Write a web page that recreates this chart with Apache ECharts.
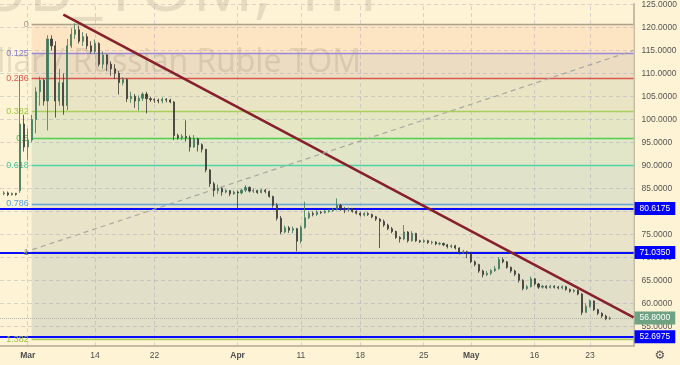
<!DOCTYPE html>
<html><head><meta charset="utf-8">
<script src="https://cdn.jsdelivr.net/npm/echarts@6/dist/echarts.min.js"></script>
<style>html,body{margin:0;padding:0;background:#fef3d5}#c{width:680px;height:365px}</style>
</head><body><div id="c"></div>
<script>
// ---- data ----
const xTickIndex = [7, 24, 39, 60, 76, 91, 107, 119, 135, 149];
const xTickText = ['Mar', '14', '22', 'Apr', '11', '18', '25', 'May', '16', '23'];
const monthNames = ['Mar', 'Apr', 'May'];
const categoryCount = 161;
const yTicks = [55, 60, 65, 70, 75, 80, 85, 90, 95, 100, 105, 110, 115, 120, 125];

// hourly candles [open, close, low, high]
const candles = [
[83.8,84.0,83.5,84.4],[84.0,83.6,83.3,84.3],[83.6,83.9,83.4,84.1],[83.9,83.7,83.4,84.0],
[84.5,99,84.0,109.5],[99,94,93,101],[94,95.5,91.2,98],[95.5,100,95,101],[100,106,97,107],
[106,108.5,103,109.3],[108.5,104,103,108.8],[104,117.5,97.6,118.3],[117.5,116,115,118.3],
[116,104,100.4,117],[104,108,103,111],[108,103,101,110],[103,116,102,117.5],[116,118.5,115.5,119.8],
[118.5,119.5,117.5,120.9],[119.5,117,116.5,120.4],[117,118,116,119],[118,116,115.3,118.7],
[116,114.8,114.3,117],[114.8,116.5,114.2,117.4],[116.5,112,111.5,116.8],[112,114,111,114.8],
[114,112,110.5,114.2],[112,111,109.5,112.6],[111,110,108.8,112],[110,108,105.4,110.5],
[108,108.7,107.4,109.2],[108.7,104.5,103.8,108.9],[104.5,105,103.6,106],[105,104,102.5,105.5],
[104,104.6,101.9,105.2],[104.6,105.5,104,105.9],[105.5,104.5,101.3,106],[104.5,104.3,103.8,104.9],
[104.3,104.2,103.6,104.6],[104.2,104.0,103.5,104.5],[104.0,104.4,103.5,104.8],[104.4,104.2,103.7,104.6],
[104.2,103.8,103.5,104.5],[103.8,96.5,95.5,104],[96.5,96,95.6,96.9],[96,96.3,95.5,96.8],
[96.3,96,95.2,99.8],[96,94,93,96.5],[94,95.8,93.8,96.6],[95.8,94.5,93,96],[94.5,93.5,92.8,94.8],
[93.5,89,88.5,93.6],[89,86,85.3,89.2],[86,84.5,83.2,86.4],[84.5,85,83.8,85.8],[85,84.2,83.4,85.2],
[84.2,84.5,83.9,84.8],[84.5,83.8,83.3,84.6],[83.8,84.2,83.6,84.5],[84.2,84.0,80.6,84.5],
[84,84.6,83.7,84.9],[84.6,85.2,84.2,85.7],[85.2,84.4,84.1,85.4],[84.4,84.5,84,84.9],
[84.5,84.1,83.8,84.7],[84.1,84.6,83.9,84.9],[84.6,84.3,83.9,84.9],[84.3,83.2,83,84.5],
[83.2,81.3,80.8,83.4],[81.3,78.5,78,81.8],[78.5,75.5,75.0,79],[75.5,76.4,75.2,76.9],
[76.4,75.9,75.3,76.8],[75.9,76.2,75.2,76.7],[76.2,73.5,71.3,76.4],[73.5,76.5,73,76.9],
[76.5,78.6,76.2,82.1],[78.6,79.5,78.3,80],[79.5,79.3,78.9,80],[79.3,79.8,79.0,80.2],
[79.8,79.7,79.4,80.1],[79.7,80,79.5,80.3],[80,80.1,79.7,80.4],[80.1,80.4,79.9,80.7],
[80.4,81.3,80.2,82.8],[81.3,80.6,80.1,81.6],[80.6,80.3,79.6,80.9],[80.3,80.5,79.9,80.8],
[80.5,80.0,79.7,80.7],[80,79.6,79.3,80.2],[79.6,79.2,78.9,79.8],[79.2,79.5,78.9,79.8],
[79.5,79.3,79,79.8],[79.3,78.8,78.5,79.5],[78.8,78.3,77.9,79],[78.3,77.8,72,78.5],
[77.8,77.0,76.6,78.2],[77,76.2,75.9,77.3],[76.2,75.6,75.2,76.6],[75.6,74.3,74,75.8],
[74.3,74.0,73.2,74.6],[74,75.5,73.7,77.0],[75.5,73.6,73.2,75.7],[73.6,75.2,73.4,75.7],
[75.2,73.6,73.3,75.3],[73.6,73.4,73.1,73.8],[73.4,73.6,73.1,73.9],[73.6,73.2,72.9,73.8],
[73.2,73.3,72.8,73.6],[73.3,72.9,72.6,73.5],[72.9,73.0,72.6,73.3],[73,72.7,72.4,73.2],
[72.7,72.3,71.9,72.9],[72.3,72.5,72,72.8],[72.5,72.0,71.7,72.7],[72,71.0,70.6,72.2],
[71,71.2,70.7,71.6],[71.2,70.8,69.8,71.4],[70.8,69.0,68.7,71.0],[69,68.4,68.0,69.3],
[68.4,67.0,66.6,68.6],[67,66.2,65.6,67.3],[66.2,66.5,65.9,67.0],[66.5,67.1,66.1,67.4],
[67.1,67.5,66.8,68.1],[67.5,69.5,67.3,70.0],[69.5,69.0,68.7,70.0],[69,67.8,67.5,69.2],
[67.8,67.0,66.6,68.0],[67,66.3,65.9,67.3],[66.3,65.0,64.5,66.5],[65,63.2,62.8,65.2],
[63.2,63.6,62.9,64.0],[63.6,65.3,63.4,65.8],[65.3,64.2,63.8,65.5],[64.2,63.5,63.1,64.4],
[63.5,63.7,63.2,64.0],[63.7,63.4,63.1,63.9],[63.4,63.7,63.2,64.0],[63.7,63.5,63.2,63.9],
[63.5,63.3,63.0,63.8],[63.3,63.6,63.0,63.9],[63.6,63.0,62.7,63.8],[63,62.6,62.3,63.2],
[62.6,62.8,62.3,63.1],[62.8,62.0,61.7,63.0],[62,58.0,57.4,62.2],[58,59.3,58.0,60.0],
[59.3,60.5,59.0,60.8],[60.5,58.6,58.3,60.6],[58.6,57.8,57.4,58.8],[57.8,57.2,56.8,58.0],
[57.2,56.6,56.3,57.5],[56.6,56.8,56.4,57.1]
];

const fibLabels = ['0', '0.125', '0.236', '0.382', '0.5', '0.618', '0.786', '1', '1.382'];
const fibPrices = [120.6, 114.4, 108.9, 101.7, 95.8, 90.0, 81.6, 71.04, 52.1];
const fibLineColors = ['#aaa38c', '#9a88d6', '#d9574f', '#a9d05c', '#4fcf4f', '#4fd3a6', '#62a6d8', '#8a8a8a', '#a9d05c'];
const fibLabelColors = ['#9c9c8c', '#8a7fd0', '#e0574f', '#9cc63f', '#45c245', '#3ec79e', '#4f9fe0', '#8a8a8a', '#9cc63f'];
const bandColors = ['#fde5c3', '#ecdcc2', '#e9e5c4', '#e4e6c4', '#e0e6c7', '#e0e3c9', '#e9e3c9', '#e2dfc9'];
const fibStartIndex = 8;

const levelPrices = [80.6175, 71.035, 52.6975];
const lastPrice = 56.8;
const trendMaroon = [[16, 122.8], [160, 56.9]];
const trendDashed = [[6, 71.035], [160, 115.0]];

// ---- build ----
const categories = new Array(categoryCount).fill('');
xTickIndex.forEach((ix, k) => { categories[ix] = xTickText[k]; });
const candleData = ['-'].concat(candles);
const lastIdx = categoryCount - 1;

const bandData = [];
for (let i = 0; i < fibPrices.length - 1; i++) {
  bandData.push([{ xAxis: fibStartIndex, yAxis: fibPrices[i], itemStyle: { color: bandColors[i] } },
                 { xAxis: lastIdx, yAxis: fibPrices[i + 1] }]);
}
const fibData = fibPrices.map((p, i) => [
  { coord: [fibStartIndex, p], lineStyle: { color: fibLineColors[i], width: 1.3, type: 'solid' },
    label: { show: true, position: 'start', formatter: fibLabels[i], color: fibLabelColors[i], fontSize: 9, distance: 3, fontFamily: 'Liberation Sans' } },
  { coord: [lastIdx, p] }
]);
const gridData = yTicks.map(v => ({ yAxis: v })).concat(xTickIndex.map(ix => ({ xAxis: ix })));

const chart = echarts.init(document.getElementById('c'), null, { renderer: 'canvas' });
chart.setOption({
  animation: false,
  backgroundColor: '#fef3d5',
  textStyle: { fontFamily: 'Liberation Sans' },
  grid: { left: -2, right: 43, top: 0, bottom: 19, containLabel: false },
  xAxis: {
    type: 'category', data: categories, boundaryGap: false,
    axisLine: { show: true, lineStyle: { color: '#b3ab93', width: 1.5 } },
    axisTick: { show: false },
    splitLine: { show: false },
    axisLabel: {
      interval: (i, v) => v !== '', margin: 5, fontSize: 8.5, color: '#4d4d4d',
      formatter: v => monthNames.includes(v) ? '{b|' + v + '}' : v,
      rich: { b: { fontWeight: 'bold', fontSize: 8.5, color: '#4d4d4d' } }
    }
  },
  yAxis: {
    type: 'value', position: 'right', min: 50.69, max: 125.17, scale: true,
    axisLine: { show: true, lineStyle: { color: '#b3ab93', width: 1.5 } },
    axisTick: { show: false },
    splitLine: { show: false },
    axisLabel: { customValues: yTicks, margin: 8, fontSize: 8.5, color: '#555', formatter: v => v.toFixed(4) }
  },
  graphic: [
    { type: 'text', z: 2, silent: true, style: { text: 'USDRUB_TOM, 1H', x: 378, y: -8, font: '68px "Open Sans"', fill: 'rgba(110,100,80,0.17)', textAlign: 'right', textVerticalAlign: 'middle' } },
    { type: 'text', z: 2, silent: true, style: { text: 'U.S. Dollar / Russian Ruble TOM', x: 361, y: 63, font: '32px "Open Sans"', fill: 'rgba(110,100,80,0.17)', textAlign: 'right', textVerticalAlign: 'middle' } },
    { type: 'text', z: 10, silent: true, style: { text: '\u2699', x: 660, y: 356, font: '12px "DejaVu Sans"', fill: '#555', textAlign: 'center', textVerticalAlign: 'middle' } }
  ],
  series: [
    { type: 'line', name: 'bands', data: [], z: 1, silent: true,
      markArea: { silent: true, data: bandData } },
    { type: 'line', name: 'grid', data: [], z: 3, silent: true,
      markLine: { silent: true, symbol: ['none', 'none'], label: { show: false },
        lineStyle: { color: 'rgba(150,150,185,0.35)', type: [4, 3], width: 1 }, data: gridData } },
    { type: 'line', name: 'fib', data: [], z: 4, silent: true,
      markLine: { silent: true, symbol: ['none', 'none'], data: fibData } },
    { type: 'line', name: 'levels', data: [], z: 5, silent: true,
      markLine: { silent: true, symbol: ['none', 'none'],
        data: levelPrices.map(p => ({ yAxis: p,
          lineStyle: { color: '#0a0aff', width: 1.8, type: 'solid' },
          label: { show: true, position: 'end', distance: 1, formatter: p.toFixed(4), color: '#fff', backgroundColor: '#0000ff', padding: [2, 5, 2, 5], fontSize: 8.5, lineHeight: 9 } }))
        .concat([{ yAxis: lastPrice,
          lineStyle: { color: '#b5b3a3', width: 1, type: 'dotted' },
          label: { show: true, position: 'end', distance: 1, formatter: lastPrice.toFixed(4), color: '#fff', backgroundColor: '#6fa283', padding: [2, 5, 2, 5], fontSize: 8.5, lineHeight: 9 } }]) } },
    { type: 'candlestick', name: 'USDRUB', data: candleData, z: 6, barWidth: 1.6,
      itemStyle: { color: '#3d7a5c', color0: '#3c3a36', borderColor: '#3d7a5c', borderColor0: '#3c3a36', borderWidth: 0.8 } },
    { type: 'line', name: 'trend', data: [], z: 7, silent: true,
      markLine: { silent: true, symbol: ['none', 'none'], label: { show: false },
        data: [
          [{ coord: trendMaroon[0], lineStyle: { color: '#86202c', width: 2.6, type: 'solid' } }, { coord: trendMaroon[1] }],
          [{ coord: trendDashed[0], lineStyle: { color: '#a8a8a0', width: 1.2, type: [5, 4] } }, { coord: trendDashed[1] }]
        ] } }
  ]
});
</script></body></html>
